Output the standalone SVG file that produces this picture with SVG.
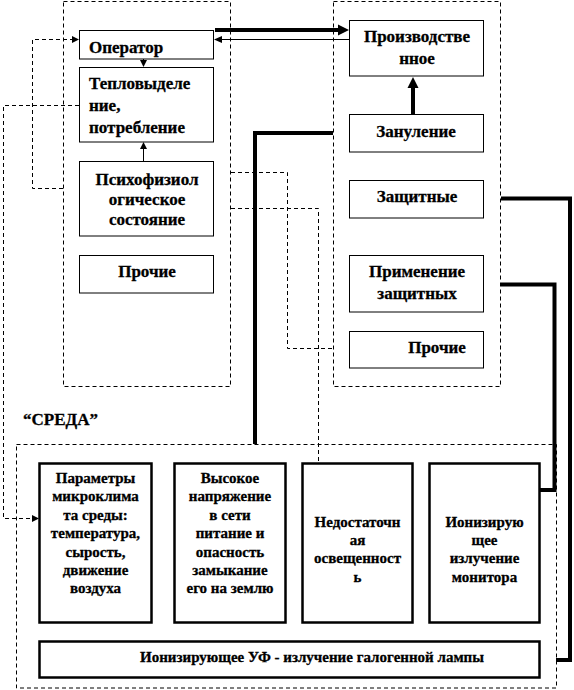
<svg xmlns="http://www.w3.org/2000/svg" width="574" height="690" viewBox="0 0 574 690">
<defs>
<style>
.dash{fill:none;stroke:#000;stroke-width:1;stroke-dasharray:4 3}
.box{fill:#fff;stroke:#000;stroke-width:1}
.box2{fill:#fff;stroke:#000;stroke-width:2.5}
.thick{fill:none;stroke:#000;stroke-width:4}
.thin{fill:none;stroke:#000;stroke-width:1}
text{font-family:'Liberation Serif','Times New Roman',serif;font-weight:bold;fill:#000;stroke:#000;stroke-width:0.3}
.t{font-size:17px}
.s{font-size:15px}
.c{text-anchor:middle}
</style>
</defs>
<rect width="574" height="690" fill="#fff"/>
<g id="containers">
<rect class="dash" x="63.5" y="1.5" width="167" height="385"/>
<rect class="dash" x="333.5" y="1.5" width="167" height="385"/>
<rect class="dash" x="16.5" y="444.5" width="540" height="243.5"/>
<text class="t" x="23" y="425">“СРЕДА”</text>
</g>
<g id="connectors">
<line class="thick" x1="215" y1="30" x2="339" y2="30"/>
<polygon points="349,30 338,24.5 338,35.5"/>
<line class="thin" x1="349" y1="39.5" x2="221" y2="39.5"/>
<polygon points="214,39.5 222,36 222,43"/>
<line class="thin" x1="143.5" y1="44" x2="143.5" y2="61"/>
<polygon points="143.5,67 140,60 147,60"/>
<line class="thin" x1="143.5" y1="161" x2="143.5" y2="148"/>
<polygon points="143.5,142 140,149 147,149"/>
<line class="thick" x1="413" y1="114" x2="413" y2="87"/>
<polygon points="413,77 407.5,88 418.5,88"/>
<polyline class="dash" points="63,188.5 32.5,188.5 32.5,39.5 72,39.5"/>
<polygon points="79,39.5 72,36 72,43"/>
<polyline class="dash" points="79,105.5 3.5,105.5 3.5,518.5 32,518.5"/>
<polygon points="39,518.5 32,515 32,522"/>
<polyline class="dash" points="231,172.5 287.5,172.5 287.5,348.5 333,348.5"/>
<polyline class="dash" points="231,208.5 318.5,208.5 318.5,463"/>
<polyline class="thick" points="333,133 255,133 255,444"/>
<polyline class="thick" points="501,198.5 570,198.5 570,660 556,660"/>
<polyline class="thick" points="501,284.5 554.5,284.5 554.5,490 540,490"/>
</g>
<g id="operator">
<rect class="box" x="79.5" y="30.5" width="134" height="28.5"/>
<text class="t" x="89" y="53">Оператор</text>
</g>
<g id="heat">
<rect class="box" x="79.5" y="67.5" width="134" height="74.5"/>
<text class="t" x="89" y="89">Тепловыделе<tspan x="89" y="111">ние,</tspan><tspan x="89" y="133">потребление</tspan></text>
</g>
<g id="psycho">
<rect class="box" x="79.5" y="161.5" width="134" height="74.5"/>
<text class="t c" x="147" y="185">Психофизиол<tspan x="147" y="205">огическое</tspan><tspan x="147" y="225">состояние</tspan></text>
</g>
<g id="other-left">
<rect class="box" x="79.5" y="255.5" width="134" height="37.5"/>
<text class="t c" x="147" y="277">Прочие</text>
</g>
<g id="production">
<rect class="box" x="349.5" y="20.5" width="134" height="55.5"/>
<text class="t c" x="417" y="42">Производстве<tspan x="417" y="64">нное</tspan></text>
</g>
<g id="grounding">
<rect class="box" x="349.5" y="114.5" width="134" height="37.5"/>
<text class="t c" x="416" y="137">Зануление</text>
</g>
<g id="protective">
<rect class="box" x="349.5" y="180.5" width="134" height="37.5"/>
<text class="t c" x="417" y="202">Защитные</text>
</g>
<g id="use-protective">
<rect class="box" x="349.5" y="255.5" width="134" height="56.5"/>
<text class="t c" x="417" y="277">Применение<tspan x="417" y="299">защитных</tspan></text>
</g>
<g id="other-right">
<rect class="box" x="349.5" y="331.5" width="134" height="36.5"/>
<text class="t c" x="437" y="353">Прочие</text>
</g>
<g id="microclimate">
<rect class="box2" x="39.5" y="463.5" width="112" height="159"/>
<text class="s c" x="95.5" y="483">Параметры<tspan x="95.5" y="501">микроклима</tspan><tspan x="95.5" y="520">та среды:</tspan><tspan x="95.5" y="538">температура,</tspan><tspan x="95.5" y="557">сырость,</tspan><tspan x="95.5" y="575">движение</tspan><tspan x="95.5" y="593">воздуха</tspan></text>
</g>
<g id="voltage">
<rect class="box2" x="174.5" y="463.5" width="111" height="159"/>
<text class="s c" x="230" y="483">Высокое<tspan x="230" y="501">напряжение</tspan><tspan x="230" y="520">в сети</tspan><tspan x="230" y="538">питание и</tspan><tspan x="230" y="557">опасность</tspan><tspan x="230" y="575">замыкание</tspan><tspan x="230" y="593">его на землю</tspan></text>
</g>
<g id="lighting">
<rect class="box2" x="302.5" y="463.5" width="110" height="159"/>
<text class="s c" x="357.5" y="527">Недостаточн<tspan x="357.5" y="545">ая</tspan><tspan x="357.5" y="563">освещенност</tspan><tspan x="357.5" y="582">ь</tspan></text>
</g>
<g id="monitor">
<rect class="box2" x="429.5" y="463.5" width="110" height="159"/>
<text class="s c" x="484.5" y="527">Ионизирую<tspan x="484.5" y="545">щее</tspan><tspan x="484.5" y="563">излучение</tspan><tspan x="484.5" y="582">монитора</tspan></text>
</g>
<g id="uv">
<rect class="box2" x="39.5" y="641.5" width="500" height="36"/>
<text class="s c" x="312" y="662">Ионизирующее УФ - излучение галогенной лампы</text>
</g>
</svg>
